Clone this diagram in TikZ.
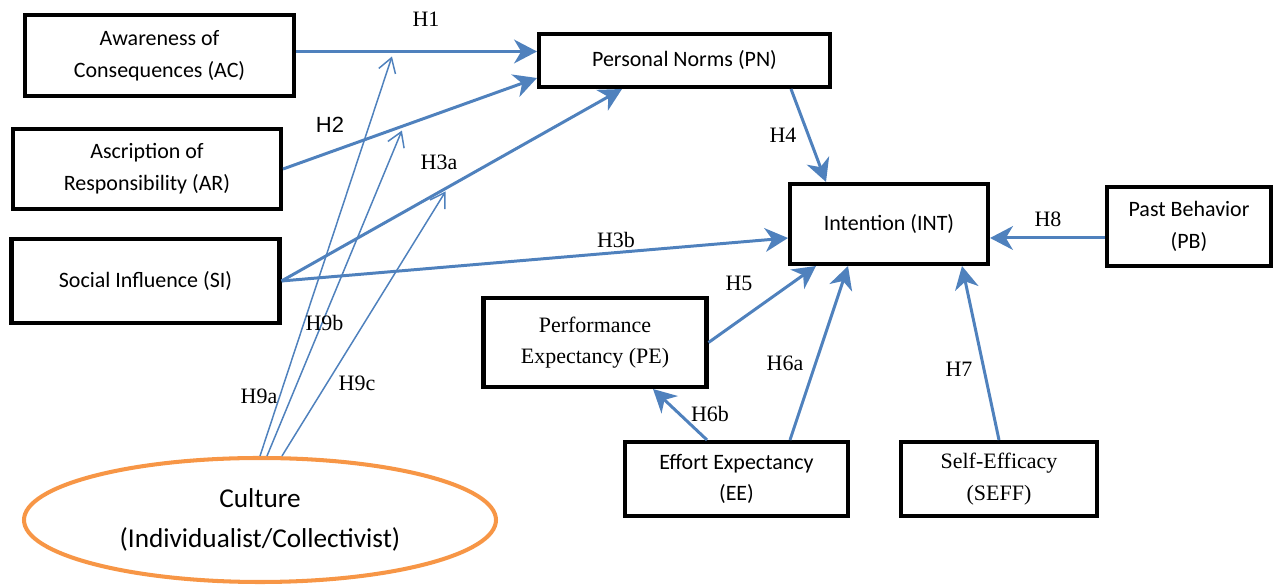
\documentclass[tikz,border=0pt]{standalone}
\usepackage{fontspec}
\setmainfont{Carlito}
\newfontfamily\timesfont{Liberation Serif}
\newfontfamily\arialfont{Liberation Sans}
\usetikzlibrary{arrows.meta}
\usetikzlibrary{shapes.geometric}
\definecolor{pathblue}{HTML}{4F81BD}
\definecolor{cultorange}{HTML}{F79646}

\begin{document}
\begin{tikzpicture}[
box/.style={draw=black,line width=2.3pt,rectangle,align=center,inner sep=0pt,font=\fontsize{12.5}{18}\selectfont},
tbox/.style={box,font=\timesfont\fontsize{12.5}{18}\selectfont},
hyp/.style={draw=pathblue,line width=1.7pt,-{Stealth[length=13pt,width=13.5pt,inset=4pt]}},
moder/.style={draw=pathblue,line width=0.85pt,-{Straight Barb[length=8pt,width=10pt]},shorten >=3pt},
lab/.style={font=\timesfont\fontsize{12.5}{15}\selectfont}
]
\useasboundingbox (0,0) rectangle (25.52,11.7);

% constructs
\node[box,minimum width=5.38cm,minimum height=1.62cm] (ac) at (3.19,10.59) {Awareness of\\Consequences (AC)};
\node[box,minimum width=5.82cm,minimum height=1.06cm] (pn) at (13.69,10.49) {Personal Norms (PN)};
\node[box,minimum width=5.36cm,minimum height=1.6cm] (ar) at (2.94,8.32) {Ascription of\\Responsibility (AR)};
\node[box,minimum width=5.36cm,minimum height=1.68cm] (si) at (2.91,6.08) {Social Influence (SI)};
\node[box,minimum width=3.96cm,minimum height=1.6cm] (int) at (17.78,7.22) {Intention (INT)};
\node[box,minimum width=3.28cm,minimum height=1.58cm] (pb) at (23.78,7.17) {Past Behavior\\(PB)};
\node[tbox,minimum width=4.46cm,minimum height=1.78cm] (pe) at (11.9,4.85) {Performance\\Expectancy (PE)};
\node[box,minimum width=4.46cm,minimum height=1.48cm] (ee) at (14.73,2.12) {Effort Expectancy\\(EE)};
\node[tbox,minimum width=3.92cm,minimum height=1.48cm] (seff) at (19.98,2.12) {Self-Efficacy\\(SEFF)};
\node[ellipse,draw=cultorange,line width=2.3pt,minimum width=9.44cm,minimum height=2.48cm,inner sep=0pt,align=center,font=\fontsize{15.5}{22.5}\selectfont] (cult) at (5.2,1.3) {Culture\\(Individualist/Collectivist)};

% hypotheses
\coordinate (h1s) at ([yshift=0.08cm]ac.east);
\draw[hyp] (h1s) -- coordinate[pos=0.405] (m1) (h1s -| pn.west);
\draw[hyp] (ar.east) -- coordinate[pos=0.476] (m2) ([yshift=-0.35cm]pn.west);
\draw[hyp] (si.east) -- coordinate[pos=0.49] (m3) ([xshift=-1.25cm]pn.south);
\draw[hyp] (si.east) -- ([yshift=-0.28cm]int.west);
\draw[hyp] ([xshift=2.13cm]pn.south) -- ([xshift=-1.26cm]int.north);
\draw[hyp] (pe.east) -- ([xshift=-1.46cm]int.south);
\draw[hyp] ([xshift=1.07cm]ee.north) -- ([xshift=-0.82cm]int.south);
\draw[hyp] ([xshift=-0.59cm]ee.north) -- ([xshift=1.16cm]pe.south);
\draw[hyp] (seff.north) -- ([xshift=1.46cm]int.south);
\coordinate (h8s) at ([yshift=-0.23cm]pb.west);
\draw[hyp] (h8s) -- (h8s -| int.east);

% moderation
\draw[moder] (cult.north) -- (m1);
\draw[moder] ([xshift=0.14cm]cult.north) -- (m2);
\draw[moder] ([xshift=0.44cm]cult.north) -- (m3);

\node[lab] (h1) at (8.52,11.32) {H1};
\node[font=\arialfont\fontsize{12.5}{15}\selectfont] (h2) at (6.6,9.2) {H2};
\node[lab] (h3a) at (8.78,8.46) {H3a};
\node[lab] (h3b) at (12.32,6.9) {H3b};
\node[lab] (h4) at (15.66,9.0) {H4};
\node[lab] (h5) at (14.78,6.04) {H5};
\node[lab] (h6a) at (15.7,4.44) {H6a};
\node[lab] (h6b) at (14.2,3.42) {H6b};
\node[lab] (h7) at (19.18,4.32) {H7};
\node[lab] (h8) at (20.96,7.32) {H8};
\node[lab] (h9a) at (5.18,3.78) {H9a};
\node[lab] (h9b) at (6.49,5.24) {H9b};
\node[lab] (h9c) at (7.14,4.04) {H9c};

\end{tikzpicture}
\end{document}
